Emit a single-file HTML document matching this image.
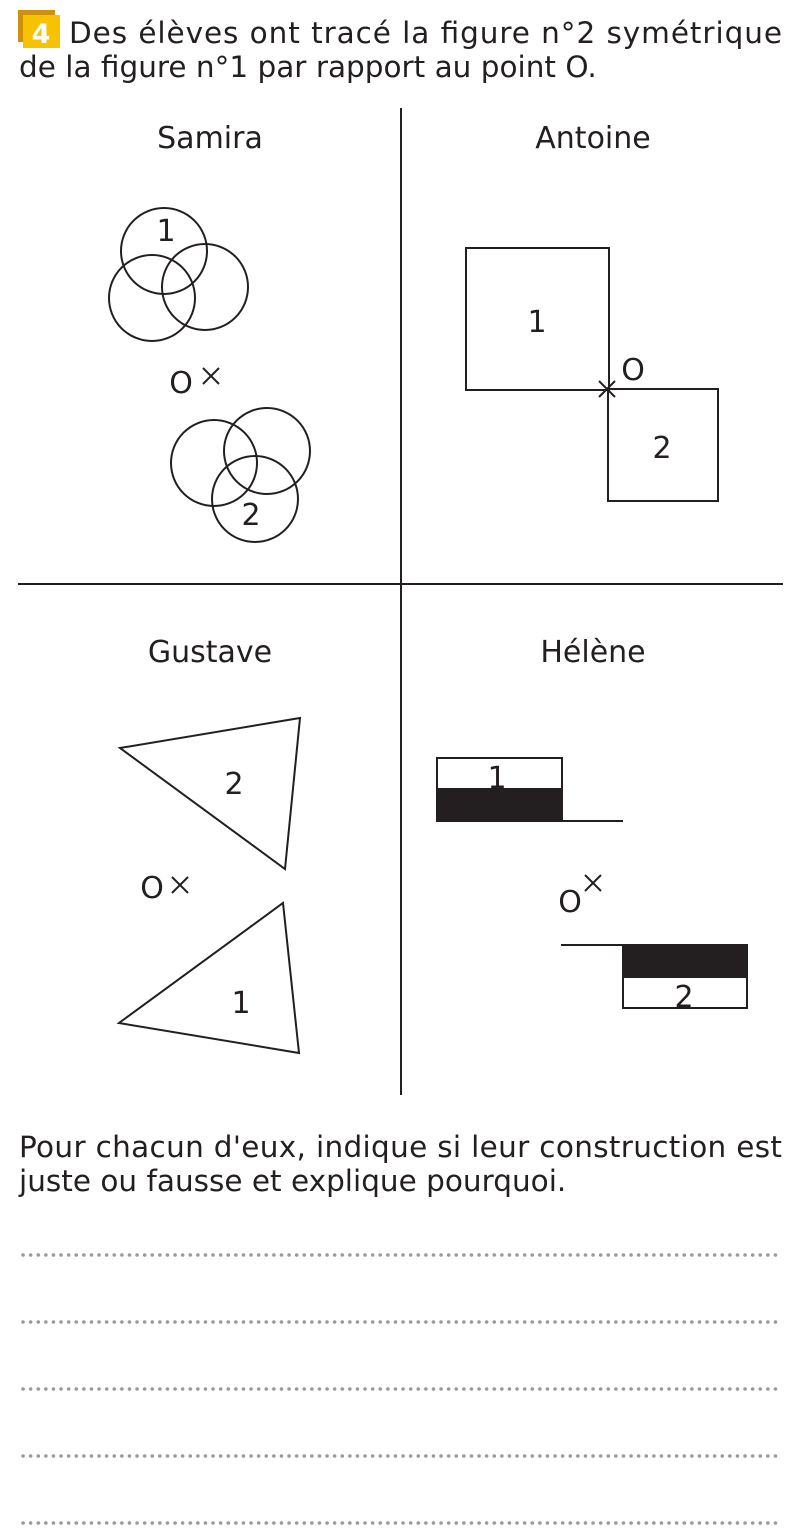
<!DOCTYPE html>
<html><head><meta charset="utf-8"><style>
html,body{margin:0;padding:0;background:#fff;}
svg{display:block;font-family:"DejaVu Sans","Liberation Sans",sans-serif;}
</style></head><body>
<svg width="803" height="1540" viewBox="0 0 803 1540" xmlns="http://www.w3.org/2000/svg">
<rect x="18" y="10" width="37" height="32" fill="#d08f0e"/>
<rect x="23" y="15" width="37" height="33" fill="#f7c200"/>
<text x="41" y="43" font-size="27" font-weight="bold" fill="#fff" text-anchor="middle">4</text>
<g fill="#231f20" font-size="29.5">
<text x="69" y="43" textLength="713" lengthAdjust="spacing">Des élèves ont tracé la figure n°2 symétrique</text>
<text x="19" y="77">de la figure n°1 par rapport au point O.</text>
<text x="19" y="1157" textLength="763" lengthAdjust="spacing">Pour chacun d'eux, indique si leur construction est</text>
<text x="19" y="1191">juste ou fausse et explique pourquoi.</text>
</g>
<g stroke="#231f20" stroke-width="2" fill="none">
<line x1="401" y1="108" x2="401" y2="1095"/>
<line x1="18" y1="584" x2="783" y2="584"/>
<circle cx="164" cy="251" r="43"/><circle cx="152" cy="298" r="43"/><circle cx="205" cy="287" r="43"/>
<circle cx="214" cy="463" r="43"/><circle cx="267" cy="451" r="43"/><circle cx="255" cy="499" r="43"/>
<path d="M203 368l16 16M219 368l-16 16"/>
<rect x="466" y="248" width="143" height="142"/>
<rect x="608" y="389" width="110" height="112"/>
<path d="M599 381l16 16M615 381l-16 16"/>
<polygon points="120,748 300,718 285,869"/>
<polygon points="119,1023 283,903 299,1053"/>
<path d="M172 877l16 16M188 877l-16 16"/>
<path d="M585 875l16 16M601 875l-16 16"/>
<rect x="437" y="758" width="125" height="63"/>
<line x1="562" y1="821" x2="623" y2="821"/>
<line x1="561" y1="945" x2="623" y2="945"/>
<rect x="623" y="945" width="124" height="63"/>
</g>
<rect x="437" y="788" width="125" height="33" fill="#231f20"/>
<rect x="623" y="945" width="124" height="33" fill="#231f20"/>
<g fill="#231f20" font-size="30" text-anchor="middle">
<text x="210" y="148">Samira</text><text x="593" y="148">Antoine</text>
<text x="210" y="662">Gustave</text><text x="593" y="662">Hélène</text>
<text x="166" y="241">1</text><text x="251" y="525">2</text>
<text x="181" y="393">O</text>
<text x="537" y="332">1</text><text x="662" y="458">2</text>
<text x="633" y="380">O</text>
<text x="234" y="794">2</text><text x="241" y="1013">1</text>
<text x="152" y="898">O</text>
<text x="497" y="788">1</text><text x="684" y="1007">2</text>
<text x="570" y="912">O</text>
</g>
<g stroke="#9a9a9a" stroke-width="3.5" stroke-linecap="round" stroke-dasharray="0.1 7.5">
<line x1="23" y1="1255" x2="778" y2="1255"/>
<line x1="23" y1="1322" x2="778" y2="1322"/>
<line x1="23" y1="1389" x2="778" y2="1389"/>
<line x1="23" y1="1456" x2="778" y2="1456"/>
<line x1="23" y1="1523" x2="778" y2="1523"/>
</g>
</svg>
</body></html>
